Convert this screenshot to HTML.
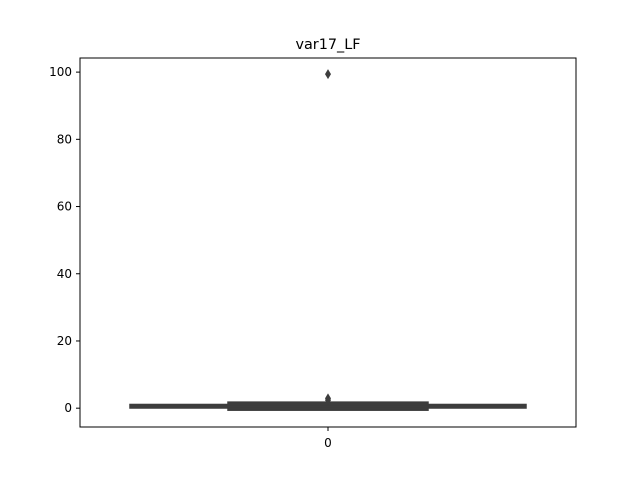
<!DOCTYPE html>
<html><head><meta charset="utf-8"><style>
body{margin:0;background:#fff;}
svg text{font-family:"DejaVu Sans","Liberation Sans",sans-serif;}
</style></head><body>
<svg id="chart" width="640" height="480" xmlns="http://www.w3.org/2000/svg"></svg>
<script>
const yTicks=[0,20,40,60,80,100];
const categories=["0"];
const boxLows=[0.05,-0.6];
const boxHighs=[1.1,1.8];
const boxHalfWidths=[198,100];
const outliers=[99.4,2.9,2.4];

const L=80,R=576,T=58,B=427;
const yMin=-5.6,yMax=104.2;
function y(v){return B-(v-yMin)/(yMax-yMin)*(B-T);}
const cx=(L+R)/2;
const svg=document.getElementById('chart');
const NS="http://www.w3.org/2000/svg";
function mk(tag,attrs,parent){const e=document.createElementNS(NS,tag);for(const k in attrs)e.setAttribute(k,attrs[k]);(parent||svg).appendChild(e);return e;}

boxLows.forEach((lo,i)=>{
  const r=mk('rect',{x:cx-boxHalfWidths[i],y:y(boxHighs[i]),width:2*boxHalfWidths[i],height:Math.max(1,y(lo)-y(boxHighs[i])),fill:'#3d3d3d',stroke:'#3d3d3d','stroke-width':1.5});
  
  
});
const med=mk('line',{x1:cx-100,x2:cx+100,y1:y(0.6),y2:y(0.6),stroke:'#3d3d3d','stroke-width':2});


outliers.forEach((v,i)=>{
  const py=y(v);
  const p=mk('path',{d:`M${cx} ${py-5} L${cx+3} ${py} L${cx} ${py+5} L${cx-3} ${py} Z`,fill:'#3d3d3d'});
  
  
});
const frame=mk('rect',{x:L,y:T,width:R-L,height:B-T,fill:'none',stroke:'#000','stroke-width':1});


yTicks.forEach(t=>{
  const py=y(t);
  const tl=mk('line',{x1:L-4,x2:L,y1:py,y2:py,stroke:'#000','stroke-width':1});
  
  
  const tx=mk('text',{x:L-8,y:py+4,'text-anchor':'end','font-size':'12',fill:'#000'});
  tx.textContent=t;
  
  
});
categories.forEach(c=>{
  const xl=mk('line',{x1:cx,x2:cx,y1:B,y2:B+4,stroke:'#000','stroke-width':1});
  
  
  const xt=mk('text',{x:cx,y:B+20,'text-anchor':'middle','font-size':'12',fill:'#000'});
  xt.textContent=c;
  
  
});
const title=mk('text',{x:cx,y:T-9,'text-anchor':'middle','font-size':'14.4',fill:'#000'});
title.textContent='var17_LF';


</script>
</body></html>
